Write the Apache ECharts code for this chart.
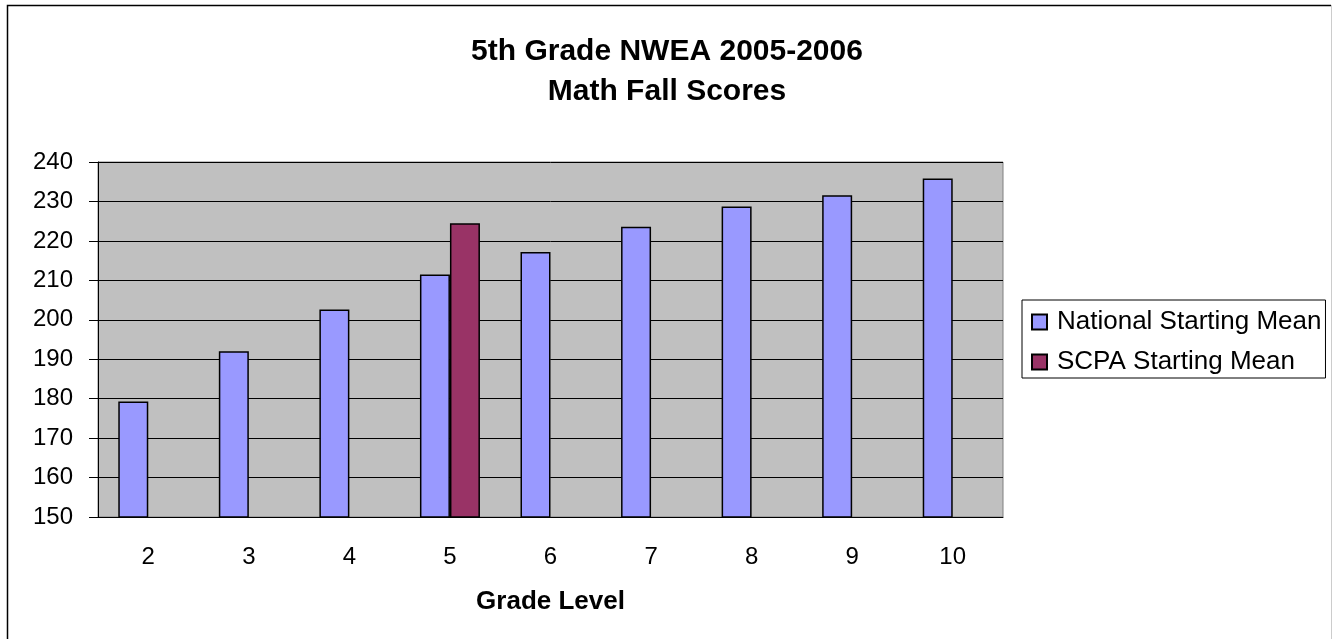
<!DOCTYPE html>
<html>
<head>
<meta charset="utf-8">
<script src="https://cdn.jsdelivr.net/npm/echarts@6/dist/echarts.min.js"></script>
<style>
  html, body { margin: 0; padding: 0; background: #fff; }
  #main { width: 1332px; height: 639px; }
</style>
</head>
<body>
<div id="main"></div>
<script>
// data
const grades = ['2', '3', '4', '5', '6', '7', '8', '9', '10'];
const nationalMean = [179.3, 192.0, 202.6, 211.5, 217.2, 223.6, 228.7, 231.6, 235.8];
const scpaMean = [null, null, null, 224.5, null, null, null, null, null];
const seriesNames = ['National Starting Mean', 'SCPA Starting Mean'];

const font = 'Liberation Sans, Arial, sans-serif';
const myChart = echarts.init(document.getElementById('main'));

const option = {
  backgroundColor: '#fff',
  animation: false,
  textStyle: { fontFamily: font, color: '#000' },
  title: {
    text: '5th Grade NWEA 2005-2006\nMath Fall Scores',
    left: 662,
    textAlign: 'center',
    top: 27,
    textStyle: { fontFamily: font, fontSize: 30, fontWeight: 'bold', color: '#000', lineHeight: 40 }
  },
  legend: {
    orient: 'vertical',
    left: 1022,
    top: 300,
    padding: [9, 4, 3, 9],
    itemWidth: 15,
    itemHeight: 15,
    itemGap: 14,
    icon: 'rect',
    borderColor: '#000',
    borderWidth: 1,
    backgroundColor: '#fff',
    textStyle: { fontFamily: font, fontSize: 26, color: '#000', lineHeight: 26, padding: [0, 0, 0, 5] },
    data: seriesNames
  },
  graphic: [
    { type: 'polyline', shape: { points: [[7.5, 700], [7.5, 5.5], [1331, 5.5]] }, style: { stroke: '#000', fill: null, lineWidth: 1.5 } },
    { type: 'line', shape: { x1: 1331.5, y1: 5, x2: 1331.5, y2: 639 }, style: { stroke: '#ccc', lineWidth: 1 } }
  ],
  grid: {
    left: 98,
    right: 329,
    top: 162,
    bottom: 122,
    show: true,
    backgroundColor: '#C0C0C0',
    borderColor: '#808080',
    borderWidth: 1
  },
  xAxis: {
    type: 'category',
    data: grades,
    name: 'Grade Level',
    nameLocation: 'middle',
    nameGap: 72,
    nameTextStyle: { fontFamily: font, fontSize: 26, fontWeight: 'bold', color: '#000' },
    axisLine: { lineStyle: { color: '#000', width: 1 } },
    axisTick: { length: 8, lineStyle: { color: '#000' } },
    axisLabel: { fontFamily: font, fontSize: 24, color: '#000', margin: 28 }
  },
  yAxis: {
    type: 'value',
    min: 150,
    max: 240,
    interval: 10,
    axisLine: { show: true, lineStyle: { color: '#000', width: 1 } },
    axisTick: { show: true, length: 9, lineStyle: { color: '#000' } },
    axisLabel: { fontFamily: font, fontSize: 24, color: '#000', margin: 25 },
    splitLine: { lineStyle: { color: '#000', width: 1 } }
  },
  series: [
    {
      name: seriesNames[0],
      type: 'bar',
      data: nationalMean,
      barWidth: 30,
      barGap: '0%',
      itemStyle: { color: '#9999FF', borderColor: '#000', borderWidth: 1.5 }
    },
    {
      name: seriesNames[1],
      type: 'bar',
      data: scpaMean,
      barWidth: 30,
      barGap: '0%',
      itemStyle: { color: '#993366', borderColor: '#000', borderWidth: 1.5 }
    }
  ]
};
myChart.setOption(option);
</script>
</body>
</html>
